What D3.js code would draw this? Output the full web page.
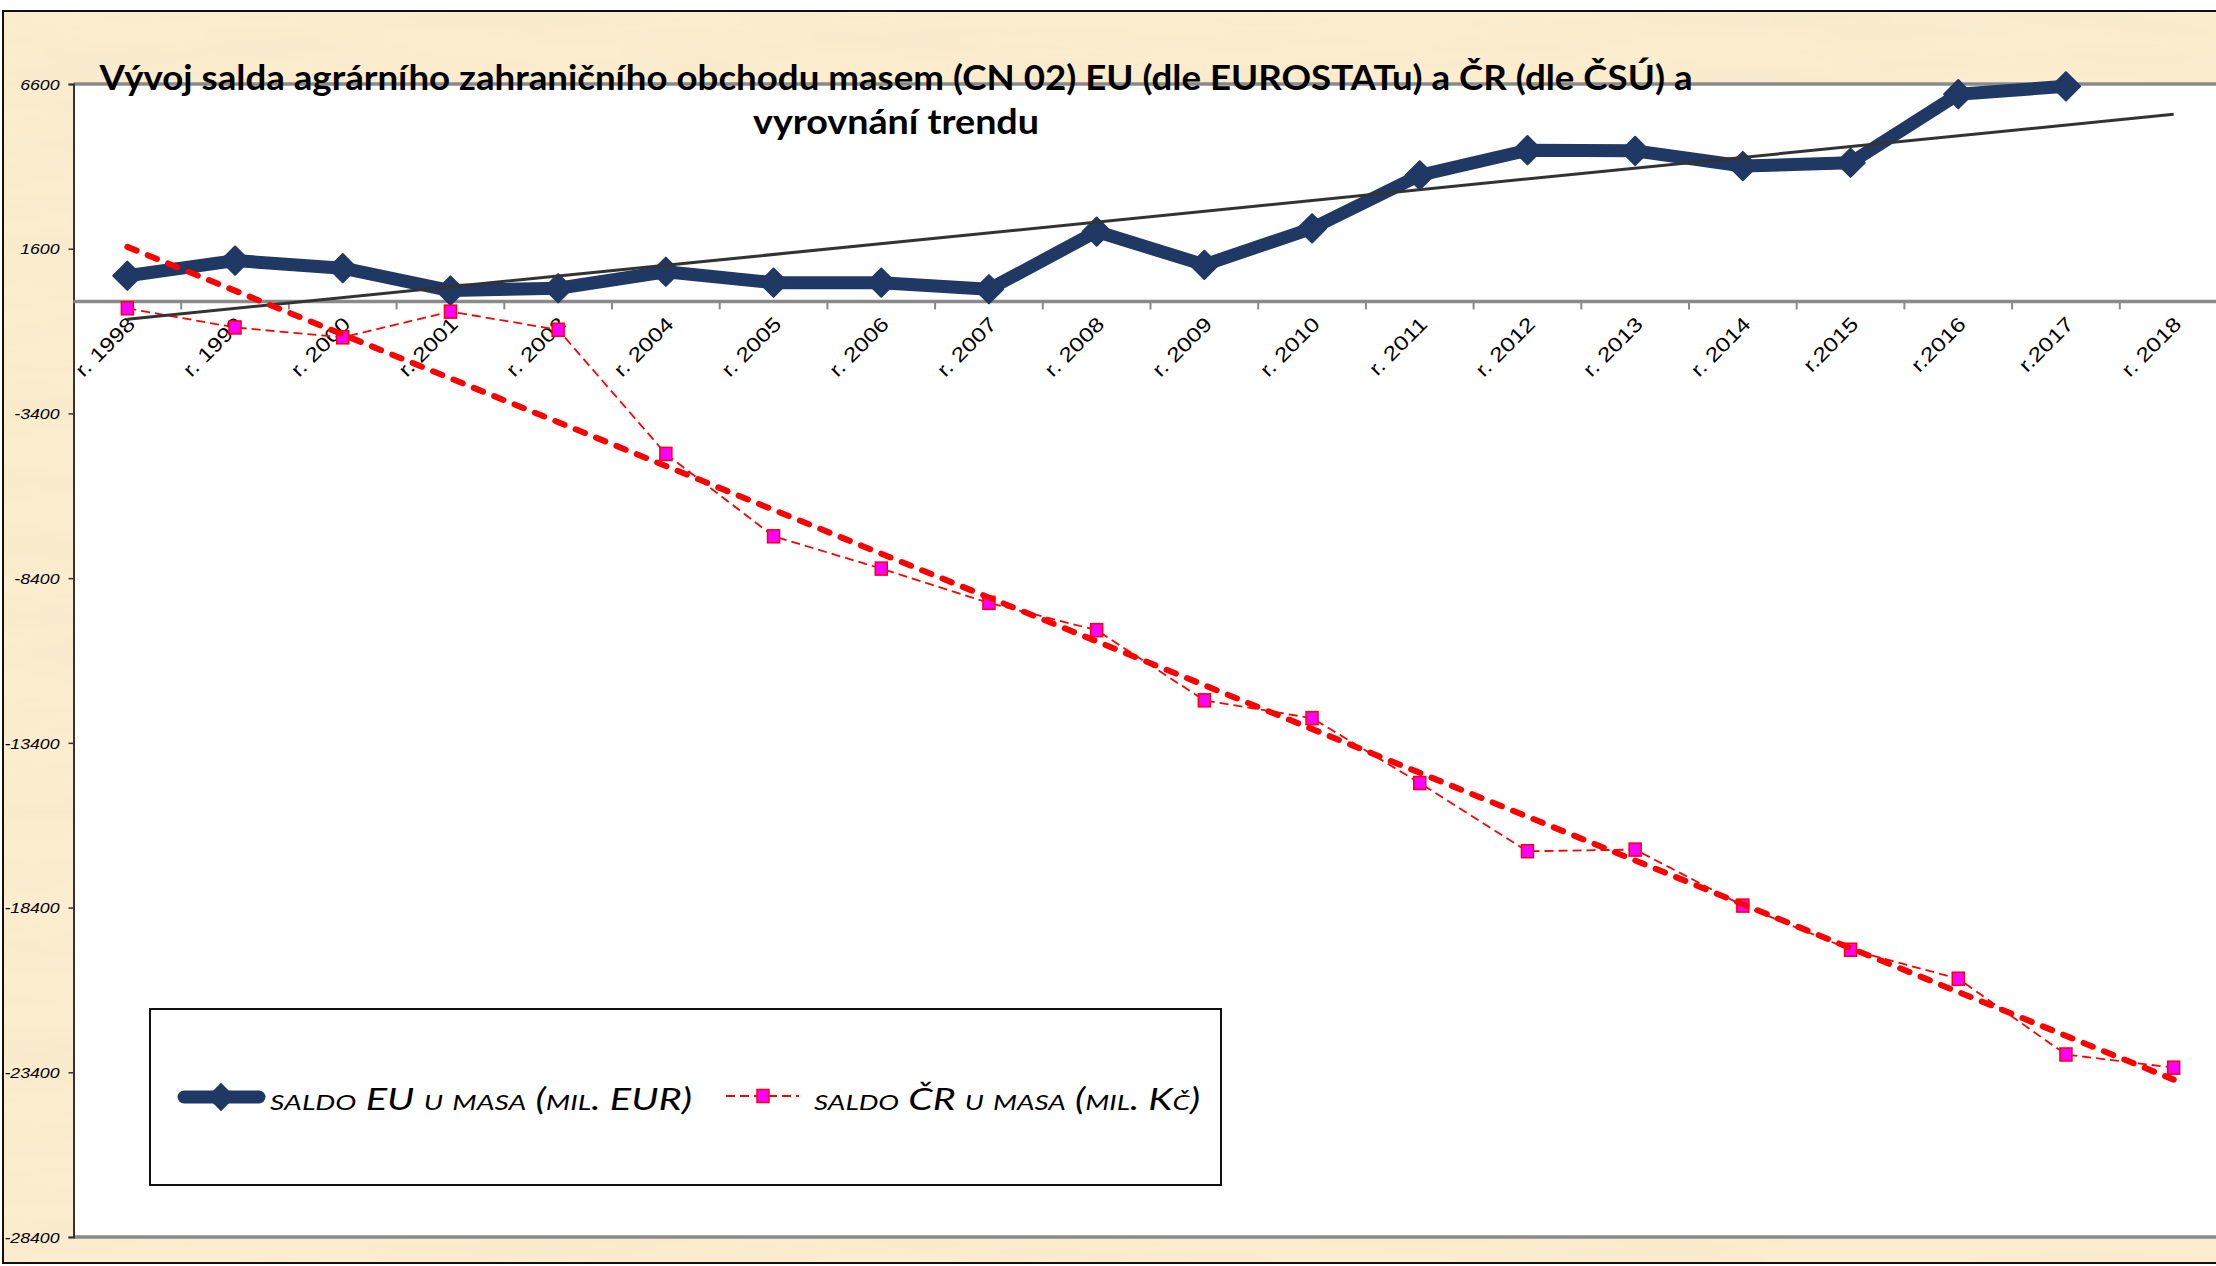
<!DOCTYPE html>
<html lang="cs">
<head>
<meta charset="utf-8">
<script src="https://cdn.jsdelivr.net/npm/d3@7"></script>
<style>
	html, body { margin: 0; padding: 0; background: #ffffff; }
	svg { display: block; }
</style>
</head>
<body>
<div id="chart"></div>
<script>
// categories (2003 is missing in the source)
const years = [
	"r. 1998", "r. 1999", "r. 2000", "r. 2001", "r. 2002", "r. 2004", "r. 2005",
	"r. 2006", "r. 2007", "r. 2008", "r. 2009", "r. 2010", "r. 2011", "r. 2012",
	"r. 2013", "r. 2014", "r.2015", "r.2016", "r.2017", "r. 2018",
];
// saldo EU u masa (mil. EUR), no value for 2018
const euSaldo = [
	780, 1240, 1010, 330, 400, 900, 570, 570, 370, 2120, 1110, 2220, 3830, 4590,
	4570, 4110, 4210, 6290, 6530, null,
];
// saldo ČR u masa (mil. Kč)
const czSaldo = [
	-210, -790, -1090, -310, -860, -4630, -7130, -8110, -9150, -9980, -12110,
	-12650, -14620, -16690, -16640, -18340, -19680, -20560, -22860, -23260,
];
const yTicks = [6600, 1600, -3400, -8400, -13400, -18400, -23400, -28400];
const titleLines = [
	"Vývoj salda agrárního zahraničního obchodu masem (CN 02) EU (dle EUROSTATu) a ČR (dle ČSÚ) a",
	"vyrovnání trendu",
];
const legendLabels = ["saldo EU u masa (mil. EUR)", "saldo ČR u masa (mil. Kč)"];

const width = 2216;
const height = 1266;
const plot = { left: 73.5, top: 84, bottom: 1237, band: 107.7 };
const navy = "#1f3864";

// Excel style linear trend: x = 1..n over the points that exist
function linearTrend(values) {
	const pts = values
		.map((v, i) => ({ i: i + 1, v }))
		.filter((p) => p.v !== null);
	const mx = d3.mean(pts, (p) => p.i);
	const my = d3.mean(pts, (p) => p.v);
	const sxy = d3.sum(pts, (p) => (p.i - mx) * (p.v - my));
	const sxx = d3.sum(pts, (p) => (p.i - mx) ** 2);
	const slope = sxy / sxx;
	return values.map((_, i) => my + slope * (i + 1 - mx));
}

const x = d3
	.scaleBand()
	.domain(years)
	.range([plot.left, plot.left + plot.band * years.length])
	.padding(0);
const cx = (label) => x(label) + x.bandwidth() / 2;
const y = d3
	.scaleLinear()
	.domain([d3.min(yTicks), d3.max(yTicks)])
	.range([plot.bottom, plot.top]);

const svg = d3
	.select("#chart")
	.append("svg")
	.attr("width", width)
	.attr("height", height)
	.attr("viewBox", `0 0 ${width} ${height}`);

const defs = svg.append("defs");
const parch = defs.append("filter").attr("id", "parch").attr("x", 0).attr("y", 0).attr("width", 1).attr("height", 1);
parch
	.append("feTurbulence")
	.attr("type", "fractalNoise")
	.attr("baseFrequency", "0.004 0.03")
	.attr("numOctaves", 3)
	.attr("seed", 7);
parch
	.append("feColorMatrix")
	.attr("type", "matrix")
	.attr("values", "0 0 0 0 0.91  0 0 0 0 0.80  0 0 0 0 0.58  1.1 0 0 0 -0.42");

// frame with parchment background
svg
	.append("rect")
	.attr("x", 3)
	.attr("y", 11)
	.attr("width", width + 20)
	.attr("height", 1252)
	.attr("fill", "#fcedcf");
svg
	.append("rect")
	.attr("x", 3)
	.attr("y", 11)
	.attr("width", width + 20)
	.attr("height", 1252)
	.attr("fill", "#000")
	.attr("filter", "url(#parch)");
svg
	.append("rect")
	.attr("x", 3)
	.attr("y", 11)
	.attr("width", width + 20)
	.attr("height", 1252)
	.attr("fill", "none")
	.attr("stroke", "#111")
	.attr("stroke-width", 2);

// plot area
const [xMin, xMax] = x.range();
svg
	.append("rect")
	.attr("x", xMin)
	.attr("y", plot.top)
	.attr("width", xMax - xMin)
	.attr("height", plot.bottom - plot.top)
	.attr("fill", "#ffffff");

// top and bottom borders of the plot
svg
	.selectAll(".plot-edge")
	.data([d3.max(yTicks), d3.min(yTicks)])
	.join("line")
	.attr("class", "plot-edge")
	.attr("x1", xMin)
	.attr("x2", xMax)
	.attr("y1", (d) => y(d))
	.attr("y2", (d) => y(d))
	.attr("stroke", "#8a8a8a")
	.attr("stroke-width", 3.5);

// y axis
const yAxis = svg
	.append("g")
	.attr("transform", `translate(${xMin},0)`)
	.call(d3.axisLeft(y).tickValues(yTicks).tickSize(5).tickPadding(0).tickFormat(() => ""));
yAxis.select(".domain").attr("stroke", "#333").attr("stroke-width", 2);
yAxis.selectAll(".tick line").attr("stroke", "#333").attr("stroke-width", 1.5);
yAxis
	.selectAll(".tick")
	.append("text")
	.attr("transform", "translate(-14,0) scale(1.18,1)")
	.attr("text-anchor", "end")
	.attr("dy", "0.35em")
	.attr("fill", "#000")
	.style("font-family", "'Liberation Sans', Arial, sans-serif")
	.style("font-size", "15px")
	.style("font-style", "italic")
	.text((d) => String(d));

// x axis on the zero line, ticks between categories
const xAxisG = svg.append("g").attr("transform", `translate(0,${y(0)})`);
xAxisG
	.append("line")
	.attr("x1", xMin)
	.attr("x2", xMax)
	.attr("stroke", "#8a8a8a")
	.attr("stroke-width", 3.5);
xAxisG
	.selectAll(".xtick")
	.data(years.slice(1))
	.join("line")
	.attr("class", "xtick")
	.attr("x1", (d) => x(d))
	.attr("x2", (d) => x(d))
	.attr("y1", 0)
	.attr("y2", 8)
	.attr("stroke", "#8a8a8a")
	.attr("stroke-width", 2);
xAxisG
	.selectAll(".xlabel")
	.data(years)
	.join("text")
	.attr("class", "xlabel")
	.attr("transform", (d) => `translate(${cx(d) + 4},19) rotate(-45) scale(1.22,1)`)
	.attr("text-anchor", "end")
	.attr("dy", "0.35em")
	.attr("fill", "#000")
	.style("font-family", "'Liberation Sans', Arial, sans-serif")
	.style("font-size", "20px")
	.text((d) => d);

// series
const euPoints = years
	.map((label, i) => ({ label, value: euSaldo[i] }))
	.filter((d) => d.value !== null);
const czPoints = years.map((label, i) => ({ label, value: czSaldo[i] }));
const line = d3
	.line()
	.x((d) => cx(d.label))
	.y((d) => y(d.value));

svg
	.append("path")
	.attr("d", line(euPoints))
	.attr("fill", "none")
	.attr("stroke", navy)
	.attr("stroke-width", 13)
	.attr("stroke-linejoin", "round")
	.attr("stroke-linecap", "round");
const diamond = d3.symbol(d3.symbolSquare, 400);
svg
	.selectAll(".eu-point")
	.data(euPoints)
	.join("path")
	.attr("class", "eu-point")
	.attr("d", diamond)
	.attr("transform", (d) => `translate(${cx(d.label)},${y(d.value)}) rotate(45)`)
	.attr("fill", navy)
	.attr("stroke", navy)
	.attr("stroke-width", 2)
	.attr("stroke-linejoin", "round");

svg
	.append("path")
	.attr("d", line(czPoints))
	.attr("fill", "none")
	.attr("stroke", "#ff0000")
	.attr("stroke-width", 1.8)
	.attr("stroke-dasharray", "9 5");
svg
	.selectAll(".cz-point")
	.data(czPoints)
	.join("rect")
	.attr("class", "cz-point")
	.attr("x", (d) => cx(d.label) - 6)
	.attr("y", (d) => y(d.value) - 6.5)
	.attr("width", 12)
	.attr("height", 13)
	.attr("fill", "#ff00ff")
	.attr("stroke", "#ff0000")
	.attr("stroke-width", 1.5);

// trend lines
const euTrend = linearTrend(euSaldo).map((value, i) => ({ label: years[i], value }));
const czTrend = linearTrend(czSaldo).map((value, i) => ({ label: years[i], value }));
svg
	.append("path")
	.attr("d", line([euTrend[0], euTrend.at(-1)]))
	.attr("fill", "none")
	.attr("stroke", "#333333")
	.attr("stroke-width", 3);
svg
	.append("path")
	.attr("d", line([czTrend[0], czTrend.at(-1)]))
	.attr("fill", "none")
	.attr("stroke", "#ff0000")
	.attr("stroke-width", 6)
	.attr("stroke-linecap", "round")
	.attr("stroke-dasharray", "10 12");

// title
const title = svg
	.append("g")
	.style("font-family", "Lato, 'Open Sans', sans-serif")
	.style("font-weight", 700)
	.style("font-size", "35px")
	.attr("fill", "#000");
title
	.append("text")
	.attr("x", 896)
	.attr("y", 90)
	.attr("text-anchor", "middle")
	.attr("textLength", 1593)
	.attr("lengthAdjust", "spacingAndGlyphs")
	.text(titleLines[0]);
title
	.append("text")
	.attr("x", 896)
	.attr("y", 134)
	.attr("text-anchor", "middle")
	.attr("textLength", 286)
	.attr("lengthAdjust", "spacingAndGlyphs")
	.text(titleLines[1]);

// legend
const legend = svg.append("g");
legend
	.append("rect")
	.attr("x", 150)
	.attr("y", 1009)
	.attr("width", 1071)
	.attr("height", 176)
	.attr("fill", "#ffffff")
	.attr("stroke", "#111")
	.attr("stroke-width", 2);
legend
	.append("line")
	.attr("x1", 184)
	.attr("x2", 259)
	.attr("y1", 1097)
	.attr("y2", 1097)
	.attr("stroke", navy)
	.attr("stroke-width", 13)
	.attr("stroke-linecap", "round");
legend
	.append("path")
	.attr("d", diamond)
	.attr("transform", "translate(221,1097) rotate(45)")
	.attr("fill", navy);
legend
	.append("line")
	.attr("x1", 726)
	.attr("x2", 799)
	.attr("y1", 1096)
	.attr("y2", 1096)
	.attr("stroke", "#ff0000")
	.attr("stroke-width", 1.8)
	.attr("stroke-dasharray", "9 5");
legend
	.append("rect")
	.attr("x", 757)
	.attr("y", 1089.5)
	.attr("width", 12)
	.attr("height", 13)
	.attr("fill", "#ff00ff")
	.attr("stroke", "#ff0000")
	.attr("stroke-width", 1.5);
legend
	.selectAll(".legend-label")
	.data([
		{ text: legendLabels[0], x: 270, w: 422 },
		{ text: legendLabels[1], x: 814, w: 386 },
	])
	.join("text")
	.attr("class", "legend-label")
	.attr("x", (d) => d.x)
	.attr("y", 1110)
	.attr("textLength", (d) => d.w)
	.attr("lengthAdjust", "spacingAndGlyphs")
	.attr("fill", "#000")
	.style("font-family", "Lato, 'Open Sans', sans-serif")
	.style("font-size", "31px")
	.style("font-style", "italic")
	.style("font-variant", "small-caps")
	.text((d) => d.text);
</script>
</body>
</html>
